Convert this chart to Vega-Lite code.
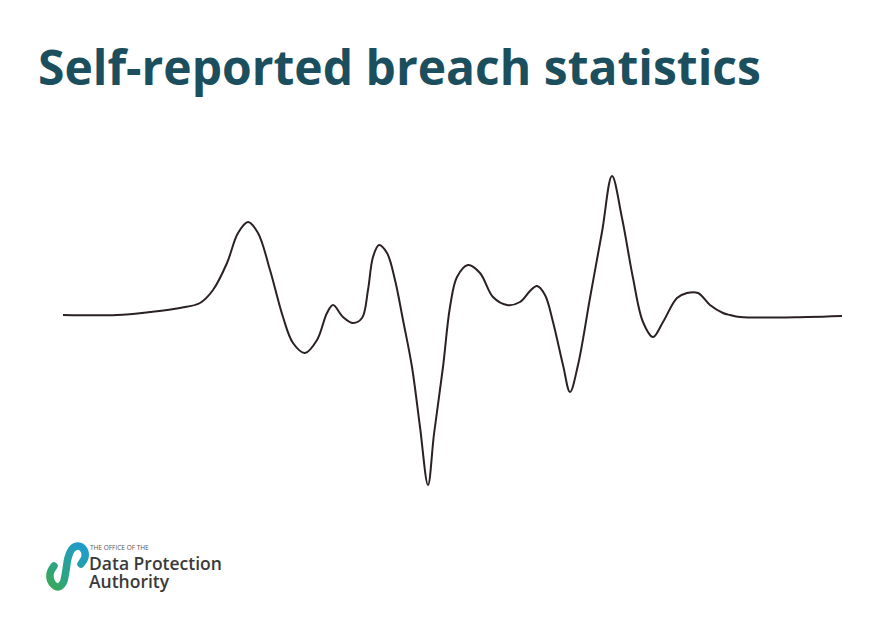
{
  "$schema": "https://vega.github.io/schema/vega-lite/v6.json",
  "description": "Self-reported breach statistics: a single wave-like line, with the authority's logo below.",
  "autosize": {"type": "fit", "contains": "padding"},
  "width": 870,
  "height": 633,
  "padding": {"left": 0, "right": 0, "top": 47, "bottom": 0},
  "background": "white",
  "title": {
    "text": "Self-reported breach statistics",
    "anchor": "start",
    "dx": 38,
    "offset": 13,
    "font": "Open Sans",
    "fontSize": 48,
    "fontWeight": "bold",
    "color": "#1c4f5e"
  },
  "config": {"view": {"stroke": null}},
  "datasets": {
    "wave": [
      {"t": 63, "v": 1}, {"t": 117, "v": 1}, {"t": 150, "v": 4}, {"t": 180, "v": 8},
      {"t": 200, "v": 13}, {"t": 213, "v": 26}, {"t": 227, "v": 53}, {"t": 238, "v": 83},
      {"t": 248, "v": 94}, {"t": 258, "v": 83}, {"t": 270, "v": 46}, {"t": 283, "v": -1},
      {"t": 293, "v": -27}, {"t": 305, "v": -37}, {"t": 317, "v": -24}, {"t": 327, "v": 3},
      {"t": 333, "v": 11}, {"t": 343, "v": -1}, {"t": 353, "v": -7}, {"t": 362, "v": -2},
      {"t": 368, "v": 26}, {"t": 373, "v": 59}, {"t": 379, "v": 71}, {"t": 387, "v": 63},
      {"t": 395, "v": 36}, {"t": 403, "v": -4}, {"t": 412, "v": -51}, {"t": 420, "v": -111},
      {"t": 428, "v": -169}, {"t": 434, "v": -118}, {"t": 443, "v": -51}, {"t": 450, "v": 9},
      {"t": 457, "v": 39}, {"t": 468, "v": 51}, {"t": 480, "v": 43}, {"t": 493, "v": 19},
      {"t": 507, "v": 11}, {"t": 520, "v": 14}, {"t": 530, "v": 25}, {"t": 537, "v": 30},
      {"t": 545, "v": 21}, {"t": 553, "v": -6}, {"t": 563, "v": -49}, {"t": 570, "v": -76},
      {"t": 578, "v": -49}, {"t": 590, "v": 18}, {"t": 602, "v": 84}, {"t": 612, "v": 140},
      {"t": 622, "v": 98}, {"t": 633, "v": 38}, {"t": 643, "v": -6}, {"t": 653, "v": -21},
      {"t": 663, "v": -6}, {"t": 677, "v": 18}, {"t": 687, "v": 23}, {"t": 698, "v": 23},
      {"t": 710, "v": 11}, {"t": 723, "v": 3}, {"t": 730, "v": 1}, {"t": 740, "v": -1},
      {"t": 807, "v": -1}, {"t": 842, "v": 0}
    ],
    "logo": [
      {"i": 1, "t": 54, "v": -250}, {"i": 2, "t": 50, "v": -258}, {"i": 3, "t": 52, "v": -267},
      {"i": 4, "t": 58, "v": -271}, {"i": 5, "t": 63, "v": -267}, {"i": 6, "t": 66, "v": -254},
      {"i": 7, "t": 68, "v": -242}, {"i": 8, "t": 72, "v": -233}, {"i": 9, "t": 78, "v": -230},
      {"i": 10, "t": 84, "v": -234}, {"i": 11, "t": 85, "v": -241}, {"i": 12, "t": 81, "v": -248}
    ],
    "logoText": [
      {"label": "THE OFFICE OF THE", "t": 90, "v": -234, "kind": "small"},
      {"label": "Data Protection", "t": 89, "v": -254, "kind": "big"},
      {"label": "Authority", "t": 89, "v": -272, "kind": "big"}
    ]
  },
  "layer": [
    {
      "data": {"name": "wave"},
      "mark": {"type": "line", "interpolate": "catmull-rom", "color": "#2a2026", "strokeWidth": 2},
      "encoding": {
        "x": {"field": "t", "type": "quantitative", "scale": {"domain": [0, 870], "nice": false, "zero": false}, "axis": null},
        "y": {"field": "v", "type": "quantitative", "scale": {"domain": [-317, 208], "nice": false, "zero": false}, "axis": null}
      }
    },
    {
      "data": {"name": "logo"},
      "mark": {
        "type": "line",
        "interpolate": "catmull-rom",
        "strokeWidth": 7.5,
        "strokeCap": "round",
        "color": {
          "gradient": "linear",
          "x1": 0, "y1": 1, "x2": 1, "y2": 0,
          "stops": [
            {"offset": 0, "color": "#3aa85a"},
            {"offset": 0.4, "color": "#2aa38a"},
            {"offset": 1, "color": "#1f9bd0"}
          ]
        }
      },
      "encoding": {
        "x": {"field": "t", "type": "quantitative"},
        "y": {"field": "v", "type": "quantitative"},
        "order": {"field": "i", "type": "quantitative"}
      }
    },
    {
      "data": {"name": "logoText"},
      "transform": [{"filter": "datum.kind === 'small'"}],
      "mark": {"type": "text", "align": "left", "baseline": "alphabetic", "font": "Open Sans", "fontSize": 6.5, "color": "#555555"},
      "encoding": {
        "x": {"field": "t", "type": "quantitative"},
        "y": {"field": "v", "type": "quantitative"},
        "text": {"field": "label"}
      }
    },
    {
      "data": {"name": "logoText"},
      "transform": [{"filter": "datum.kind === 'big'"}],
      "mark": {"type": "text", "align": "left", "baseline": "alphabetic", "font": "Open Sans", "fontSize": 17.5, "fontWeight": 600, "color": "#3a3a3a"},
      "encoding": {
        "x": {"field": "t", "type": "quantitative"},
        "y": {"field": "v", "type": "quantitative"},
        "text": {"field": "label"}
      }
    }
  ]
}
